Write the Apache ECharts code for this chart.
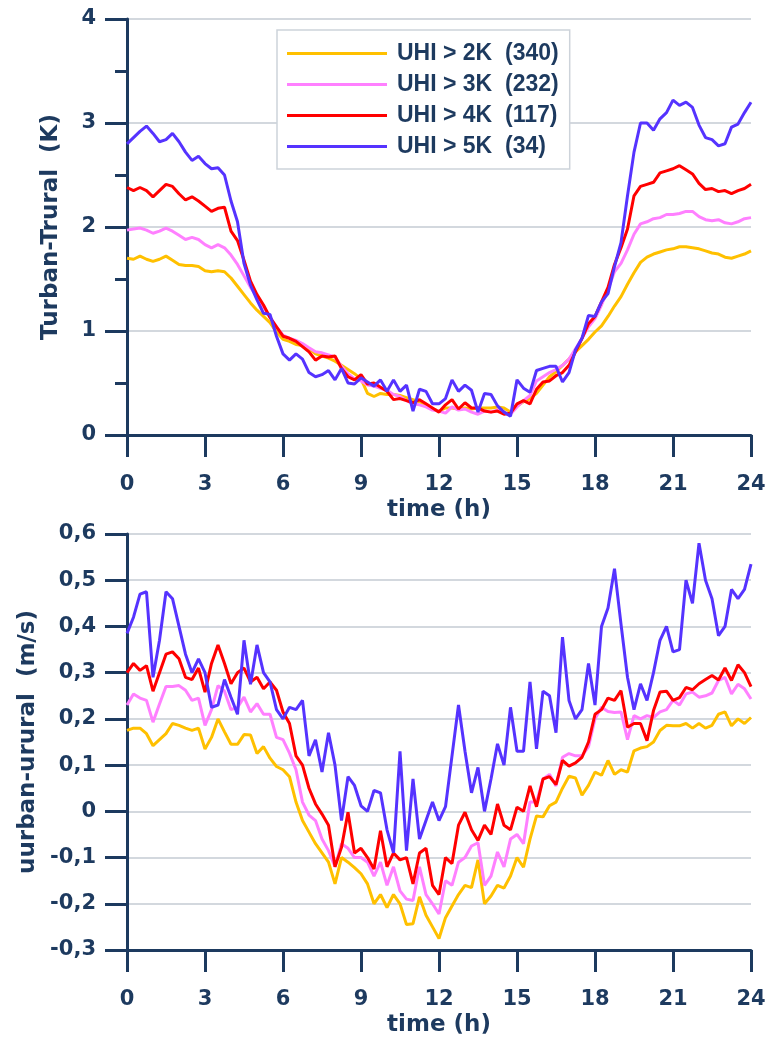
<!DOCTYPE html>
<html><head><meta charset="utf-8">
<script src="https://cdn.jsdelivr.net/npm/echarts/dist/echarts.min.js"></script>
<style>html,body{margin:0;padding:0;background:#fff}#c{width:769px;height:1043px}</style>
</head><body><div id="c"></div>
<script>
// ---------- data ----------
const seriesNames = ['UHI > 2K  (340)', 'UHI > 3K  (232)', 'UHI > 4K  (117)', 'UHI > 5K  (34)'];
const seriesColors = ['#FFC000', '#FF80FF', '#FF0000', '#5533FF'];
// time of day (h), 15-minute steps 0 ... 24
const hours = Array.from({length: 97}, (_, i) => i * 0.25);

// Top panel: T_urban - T_rural (K)
const dT_2K = [
 1.70,1.69,1.72,1.69,1.67,1.69,1.72,1.68,1.64,1.63,1.63,1.62,
 1.58,1.57,1.58,1.57,1.51,1.43,1.35,1.27,1.20,1.14,1.08,0.99,
 0.92,0.90,0.87,0.86,0.83,0.78,0.76,0.74,0.71,0.67,0.63,0.59,
 0.54,0.40,0.37,0.40,0.39,0.39,0.38,0.36,0.34,0.32,0.29,0.25,
 0.23,0.26,0.26,0.25,0.26,0.25,0.26,0.26,0.26,0.27,0.26,0.22,
 0.28,0.32,0.35,0.40,0.48,0.56,0.61,0.67,0.73,0.80,0.86,0.92,
 0.99,1.05,1.14,1.24,1.33,1.45,1.56,1.66,1.71,1.74,1.76,1.78,
 1.79,1.81,1.81,1.80,1.79,1.77,1.75,1.74,1.71,1.70,1.72,1.74,
 1.77];
const dT_3K = [
 1.97,1.98,1.99,1.97,1.94,1.96,1.99,1.96,1.92,1.88,1.90,1.88,
 1.83,1.80,1.83,1.80,1.73,1.64,1.53,1.42,1.33,1.23,1.13,1.04,
 0.96,0.93,0.91,0.88,0.84,0.80,0.79,0.77,0.75,0.66,0.59,0.54,
 0.52,0.48,0.47,0.45,0.43,0.39,0.37,0.33,0.30,0.29,0.27,0.24,
 0.23,0.21,0.27,0.24,0.25,0.22,0.20,0.23,0.22,0.24,0.22,0.20,
 0.27,0.33,0.38,0.52,0.56,0.60,0.63,0.67,0.73,0.83,0.93,1.04,
 1.12,1.25,1.40,1.57,1.65,1.78,1.93,2.03,2.05,2.08,2.09,2.12,
 2.12,2.13,2.15,2.15,2.10,2.07,2.06,2.07,2.04,2.03,2.05,2.08,
 2.09];
const dT_4K = [
 2.38,2.35,2.38,2.35,2.29,2.35,2.41,2.39,2.32,2.26,2.29,2.25,
 2.20,2.15,2.18,2.19,1.96,1.87,1.68,1.48,1.35,1.25,1.13,1.04,
 0.95,0.93,0.90,0.85,0.80,0.72,0.76,0.75,0.76,0.64,0.56,0.53,
 0.58,0.49,0.50,0.46,0.42,0.34,0.35,0.33,0.31,0.34,0.30,0.26,
 0.22,0.29,0.34,0.25,0.31,0.26,0.26,0.23,0.22,0.23,0.20,0.21,
 0.30,0.33,0.30,0.44,0.51,0.52,0.57,0.60,0.67,0.80,0.93,1.07,
 1.14,1.28,1.42,1.64,1.80,1.98,2.30,2.39,2.41,2.43,2.52,2.54,
 2.56,2.59,2.55,2.51,2.42,2.36,2.37,2.34,2.35,2.32,2.35,2.37,
 2.41];
const dT_5K = [
 2.80,2.86,2.92,2.97,2.90,2.82,2.84,2.90,2.82,2.72,2.64,2.68,
 2.61,2.56,2.57,2.50,2.25,2.05,1.65,1.44,1.30,1.17,1.16,0.95,
 0.78,0.72,0.78,0.73,0.60,0.56,0.58,0.62,0.53,0.64,0.50,0.49,
 0.55,0.51,0.47,0.53,0.42,0.53,0.42,0.48,0.23,0.44,0.42,0.30,
 0.30,0.35,0.53,0.42,0.48,0.43,0.22,0.40,0.39,0.28,0.22,0.18,
 0.53,0.45,0.41,0.62,0.64,0.66,0.66,0.51,0.60,0.82,0.93,1.15,
 1.14,1.28,1.36,1.62,1.85,2.30,2.72,3.00,3.00,2.93,3.04,3.10,
 3.22,3.17,3.20,3.15,2.98,2.86,2.84,2.78,2.80,2.96,2.99,3.10,
 3.20];

// Bottom panel: u_urban - u_rural (m/s)
const dU_2K = [
 0.175,0.18,0.18,0.168,0.142,0.155,0.168,0.19,0.186,0.18,0.175,0.18,
 0.135,0.16,0.20,0.172,0.145,0.145,0.166,0.165,0.125,0.14,0.115,0.097,
 0.09,0.075,0.02,-0.02,-0.045,-0.07,-0.09,-0.11,-0.157,-0.10,-0.11,-0.122,
 -0.135,-0.157,-0.20,-0.18,-0.208,-0.18,-0.20,-0.245,-0.243,-0.185,-0.225,-0.25,
 -0.275,-0.23,-0.205,-0.18,-0.16,-0.165,-0.105,-0.20,-0.183,-0.16,-0.166,-0.14,
 -0.10,-0.121,-0.06,-0.01,-0.012,0.012,0.02,0.05,0.076,0.072,0.035,0.056,
 0.085,0.078,0.11,0.08,0.09,0.085,0.131,0.137,0.14,0.15,0.175,0.186,
 0.185,0.185,0.19,0.18,0.19,0.18,0.186,0.21,0.215,0.185,0.20,0.19,
 0.203];
const dU_3K = [
 0.23,0.254,0.245,0.24,0.193,0.232,0.27,0.27,0.272,0.262,0.24,0.245,
 0.186,0.22,0.272,0.26,0.22,0.225,0.247,0.215,0.233,0.21,0.21,0.16,
 0.155,0.126,0.09,0.02,-0.008,-0.02,-0.06,-0.085,-0.12,-0.07,-0.08,-0.10,
 -0.10,-0.11,-0.14,-0.11,-0.16,-0.12,-0.172,-0.19,-0.193,-0.12,-0.18,-0.20,
 -0.222,-0.15,-0.16,-0.11,-0.10,-0.075,-0.068,-0.16,-0.14,-0.088,-0.12,-0.06,
 -0.05,-0.07,0.02,0.02,0.07,0.08,0.055,0.117,0.125,0.12,0.12,0.14,
 0.20,0.225,0.216,0.214,0.215,0.155,0.207,0.20,0.207,0.203,0.215,0.22,
 0.24,0.23,0.254,0.258,0.247,0.25,0.256,0.283,0.29,0.254,0.275,0.265,
 0.243];
const dU_4K = [
 0.30,0.32,0.305,0.315,0.26,0.30,0.34,0.345,0.33,0.29,0.285,0.31,
 0.258,0.32,0.36,0.32,0.276,0.30,0.31,0.28,0.29,0.265,0.28,0.262,
 0.215,0.19,0.12,0.10,0.05,0.016,-0.006,-0.03,-0.12,-0.078,-0.002,-0.09,
 -0.08,-0.10,-0.125,-0.042,-0.12,-0.09,-0.105,-0.10,-0.157,-0.09,-0.08,-0.16,
 -0.18,-0.10,-0.113,-0.03,-0.002,-0.04,-0.063,-0.03,-0.05,0.016,-0.03,-0.04,
 0.009,0.00,0.055,0.01,0.07,0.075,0.058,0.11,0.098,0.105,0.117,0.15,
 0.21,0.22,0.245,0.24,0.261,0.182,0.19,0.19,0.153,0.218,0.258,0.26,
 0.24,0.246,0.268,0.263,0.276,0.285,0.294,0.284,0.31,0.283,0.317,0.30,
 0.27];
const dU_5K = [
 0.385,0.42,0.47,0.475,0.29,0.37,0.475,0.46,0.40,0.34,0.30,0.33,
 0.30,0.225,0.23,0.285,0.247,0.21,0.37,0.275,0.36,0.30,0.28,0.22,
 0.20,0.225,0.22,0.24,0.12,0.155,0.085,0.17,0.10,-0.02,0.075,0.056,
 0.012,0.00,0.045,0.04,-0.04,-0.09,0.13,-0.085,0.07,-0.06,-0.02,0.02,
 -0.02,0.01,0.12,0.23,0.13,0.04,0.095,0.00,0.07,0.146,0.10,0.225,
 0.13,0.13,0.28,0.135,0.26,0.25,0.17,0.377,0.24,0.20,0.22,0.32,
 0.23,0.40,0.44,0.525,0.405,0.29,0.22,0.276,0.24,0.30,0.37,0.40,
 0.345,0.35,0.50,0.45,0.58,0.50,0.46,0.38,0.40,0.48,0.46,0.48,
 0.535];

const topSeries = [dT_2K, dT_3K, dT_4K, dT_5K];
const bottomSeries = [dU_2K, dU_3K, dU_4K, dU_5K];

// ---------- styling ----------
const navy = '#1d3a5f';
const gridLineColor = '#d3d8de';
const tickFont = {fontFamily: 'DejaVu Sans', fontWeight: 'bold', fontSize: 21, color: navy};
const nameFont = {fontFamily: 'DejaVu Sans', fontWeight: 'bold', fontSize: 23, color: navy};
const fmtComma = v => Math.abs(v) < 1e-9 ? '0' : (Math.round(v * 10) / 10).toFixed(1).replace('.', ',');

function makeSeries(arrs, gi) {
  return arrs.map((arr, k) => ({
    name: seriesNames[k], type: 'line', xAxisIndex: gi, yAxisIndex: gi,
    data: arr.map((v, i) => [hours[i], v]),
    showSymbol: false, symbol: 'none',
    lineStyle: {width: 3, color: seriesColors[k]},
    itemStyle: {color: seriesColors[k]},
    z: 3 + k
  }));
}

const xAxisBase = gi => ({
  type: 'value', gridIndex: gi, min: 0, max: 24, interval: 3,
  name: 'time (h)', nameLocation: 'middle', nameGap: 64, nameTextStyle: nameFont,
  axisLine: {onZero: false, lineStyle: {color: navy, width: 3}},
  axisTick: {length: 22, lineStyle: {color: navy, width: 3}},
  axisLabel: Object.assign({margin: 39}, tickFont),
  splitLine: {show: false}
});

const option = {
  animation: false,
  backgroundColor: '#ffffff',
  grid: [
    {left: 127, right: 18, top: 19, height: 416},
    {left: 127, right: 18, top: 534, height: 416}
  ],
  legend: {
    data: seriesNames, orient: 'vertical', left: 277, top: 30,
    icon: 'rect', itemWidth: 100, itemHeight: 3, itemGap: 8,
    padding: [12, 11, 11, 10],
    borderColor: '#cdd3da', borderWidth: 1.5, backgroundColor: '#ffffff',
    selectedMode: false,
    textStyle: {fontFamily: 'Liberation Sans, Arial', fontWeight: 'bold', fontSize: 23, lineHeight: 23, color: navy, padding: [0, 0, 0, 5]}
  },
  xAxis: [xAxisBase(0), xAxisBase(1)],
  yAxis: [
    {
      type: 'value', gridIndex: 0, min: 0, max: 4, interval: 1,
      name: 'Turban-Trural  (K)', nameLocation: 'middle', nameGap: 64, nameTextStyle: nameFont,
      axisLine: {show: true, lineStyle: {color: navy, width: 3}},
      axisTick: {show: true, length: 22, lineStyle: {color: navy, width: 3}},
      minorTick: {show: true, splitNumber: 2, length: 12, lineStyle: {color: navy, width: 3}},
      axisLabel: Object.assign({margin: 31}, tickFont),
      splitLine: {show: true, lineStyle: {color: gridLineColor, width: 2}}
    },
    {
      type: 'value', gridIndex: 1, min: -0.3, max: 0.6, interval: 0.1,
      name: 'uurban-urural  (m/s)', nameLocation: 'middle', nameGap: 85, nameTextStyle: nameFont,
      axisLine: {show: true, onZero: false, lineStyle: {color: navy, width: 3}},
      axisTick: {show: true, length: 22, lineStyle: {color: navy, width: 3}},
      axisLabel: Object.assign({margin: 31, formatter: fmtComma}, tickFont),
      splitLine: {show: true, lineStyle: {color: gridLineColor, width: 2}}
    }
  ],
  series: makeSeries(topSeries, 0).concat(makeSeries(bottomSeries, 1))
};

const chart = echarts.init(document.getElementById('c'), null, {renderer: 'canvas', width: 769, height: 1043});
chart.setOption(option);
</script>
</body></html>
